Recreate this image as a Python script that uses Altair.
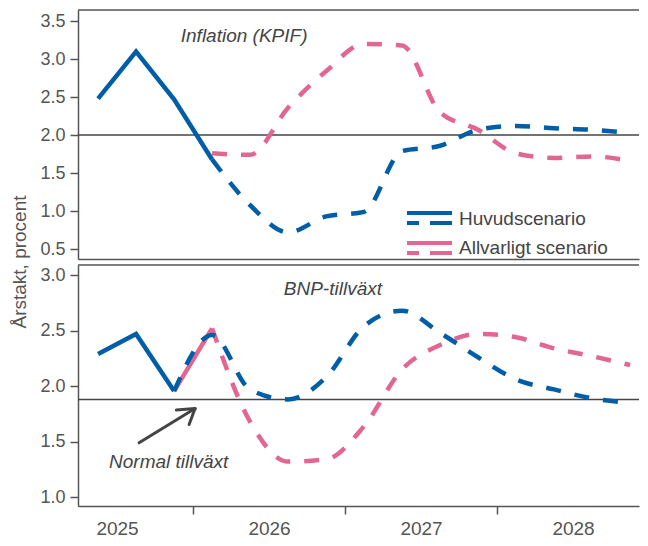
import altair as alt
import pandas as pd

FONT = "Liberation Sans"
BLUE = "#005ea8"
PINK = "#e2668f"
GREY = "#555555"
DARK = "#444444"

# Quarters (placed at quarter mid-points)
quarters = ["2025Q2", "2025Q3", "2025Q4",
            "2026Q1", "2026Q2", "2026Q3", "2026Q4",
            "2027Q1", "2027Q2", "2027Q3", "2027Q4",
            "2028Q1", "2028Q2", "2028Q3", "2028Q4"]

# Inflation (KPIF)
kpif_outcome_q = quarters[0:4]
kpif_outcome = [2.48, 3.10, 2.47, 1.68]
kpif_fc_q = quarters[3:]
kpif_main = [1.68, 1.08, 0.72, 0.93, 0.99, 1.79, 1.86, 2.07, 2.12, 2.09, 2.07, 2.03]
kpif_severe = [1.76, 1.74, 2.36, 2.84, 3.20, 3.18, 2.30, 2.07, 1.76, 1.70, 1.72, 1.66]
kpif_ref = [2.0]

# BNP-tillväxt
bnp_outcome_q = quarters[0:3]
bnp_outcome = [2.29, 2.47, 1.955]
bnp_fc_q = quarters[2:]
bnp_main = [1.955, 2.46, 1.97, 1.88, 2.08, 2.54, 2.68, 2.48, 2.26, 2.06, 1.97, 1.89, 1.85]
bnp_severe = [1.955, 2.52, 1.68, 1.32, 1.34, 1.64, 2.15, 2.37, 2.47, 2.44, 2.34, 2.27, 2.19]
bnp_ref = [1.88]

year_ticks = [2025.5, 2026, 2026.5, 2027, 2027.5, 2028, 2028.5]
top_y_ticks = [0.5, 1.0, 1.5, 2.0, 2.5, 3.0, 3.5]
bot_y_ticks = [1.0, 1.5, 2.0, 2.5, 3.0]

W = 561
H_TOP = 249
H_BOT = 241


def qpos(q):
    return int(q[:4]) + (int(q[-1]) - 0.5) / 4


def frame(qs, vals):
    return pd.DataFrame({"t": [qpos(q) for q in qs], "v": vals})


xscale = alt.Scale(domain=[2025.243, 2028.934], nice=False, zero=False)
top_y = alt.Scale(domain=[0.37, 3.646], nice=False, zero=False)
bot_y = alt.Scale(domain=[0.92, 3.091], nice=False, zero=False)


def yaxis(vals):
    return alt.Axis(values=vals, format=".1f", title=None, grid=False,
                    tickSize=8, tickColor=GREY, tickWidth=1.5,
                    domainColor=GREY, domainWidth=1.5,
                    labelColor=GREY, labelFontSize=18, labelFont=FONT,
                    labelPadding=5)


top_xaxis = alt.Axis(labels=False, ticks=False, domain=True, grid=False, title=None,
                     domainColor=GREY, domainWidth=1.5)

bottom_xaxis = alt.Axis(
    values=year_ticks,
    labelExpr="datum.value % 1 == 0.5 ? '' + floor(datum.value) : ''",
    tickOpacity={"condition": {"test": "datum.value % 1 == 0", "value": 1}, "value": 0},
    tickSize=8, tickColor=GREY, tickWidth=1.5,
    domainColor=GREY, domainWidth=1.5,
    labelColor=GREY, labelFontSize=19, labelFont=FONT, labelPadding=5,
    labelFlush=False, labelOverlap=False, grid=False, title=None)


def line(df, color, yscale, yvals, xaxis, dashed=False, smooth=False):
    kw = dict(color=color, strokeWidth=4.5, strokeCap="butt", clip=True)
    if dashed:
        kw["strokeDash"] = [15, 14]
    if smooth:
        kw["interpolate"] = "monotone"
    return alt.Chart(df).mark_line(**kw).encode(
        x=alt.X("t:Q", scale=xscale, axis=xaxis),
        y=alt.Y("v:Q", scale=yscale, axis=yaxis(yvals)),
    )


def ref_rule(vals, yscale, yvals):
    return alt.Chart(pd.DataFrame({"v": vals})).mark_rule(color=DARK, strokeWidth=1.5).encode(
        y=alt.Y("v:Q", scale=yscale, axis=yaxis(yvals)))


def label(text, t, v, yscale, size=19):
    return alt.Chart(pd.DataFrame({"t": [t], "v": [v], "s": [text]})).mark_text(
        font=FONT, fontSize=size, fontStyle="italic",
        color=DARK, align="center", baseline="alphabetic").encode(
        x=alt.X("t:Q", scale=xscale), y=alt.Y("v:Q", scale=yscale), text="s:N")


one = pd.DataFrame({"a": [0]})


def px_rule(x1, x2, y, color, width=4, dash=None):
    kw = dict(color=color, strokeWidth=width, strokeCap="butt")
    if dash:
        kw["strokeDash"] = dash
    return alt.Chart(one).mark_rule(**kw).encode(
        x=alt.value(x1), x2=alt.value(x2), y=alt.value(y))


def px_text(text, x, y, size=19, color=DARK, angle=0, align="left", baseline="alphabetic"):
    kw = dict(font=FONT, fontSize=size, color=color, align=align, baseline=baseline, text=text)
    if angle:
        kw["angle"] = angle
    return alt.Chart(one).mark_text(**kw).encode(x=alt.value(x), y=alt.value(y))


# ---------------- Top panel ----------------
top = alt.layer(
    ref_rule(kpif_ref, top_y, top_y_ticks),
    line(frame(kpif_fc_q, kpif_severe), PINK, top_y, top_y_ticks, top_xaxis, dashed=True, smooth=True),
    line(frame(kpif_fc_q, kpif_main), BLUE, top_y, top_y_ticks, top_xaxis, dashed=True, smooth=True),
    line(frame(kpif_outcome_q, kpif_outcome), BLUE, top_y, top_y_ticks, top_xaxis),
    label("Inflation (KPIF)", 2026.336, 3.23, top_y),
    # panel top edge
    px_rule(0, W, 0, GREY, width=1.5),
    # legend
    px_rule(329, 374, 203, BLUE),
    px_rule(329, 374, 213, BLUE, dash=[12, 11, 30, 0]),
    px_rule(329, 374, 233, PINK),
    px_rule(329, 374, 243, PINK, dash=[12, 11, 30, 0]),
    px_text("Huvudscenario", 381, 215),
    px_text("Allvarligt scenario", 381, 244),
    # shared y-axis title
    px_text("Årstakt, procent", -58, H_TOP + 3, size=19, color=GREY, angle=270,
            align="center", baseline="middle"),
).properties(width=W, height=H_TOP)

# ---------------- Bottom panel ----------------
arrow = pd.DataFrame({
    "t": [2025.645, 2025.890, 2025.974],
    "v": [1.489, 1.784, 1.654],
    "t2": [2026.013, 2026.013, 2026.013],
    "v2": [1.798, 1.798, 1.798],
})
arrow_layer = alt.Chart(arrow).mark_rule(color=DARK, strokeWidth=3, strokeCap="round").encode(
    x=alt.X("t:Q", scale=xscale), y=alt.Y("v:Q", scale=bot_y), x2="t2:Q", y2="v2:Q")

bottom = alt.layer(
    ref_rule(bnp_ref, bot_y, bot_y_ticks),
    line(frame(bnp_fc_q[:2], bnp_severe[:2]), PINK, bot_y, bot_y_ticks, bottom_xaxis),
    line(frame(bnp_fc_q[1:], bnp_severe[1:]), PINK, bot_y, bot_y_ticks, bottom_xaxis, dashed=True, smooth=True),
    line(frame(bnp_fc_q, bnp_main), BLUE, bot_y, bot_y_ticks, bottom_xaxis, dashed=True, smooth=True),
    line(frame(bnp_outcome_q, bnp_outcome), BLUE, bot_y, bot_y_ticks, bottom_xaxis),
    label("BNP-tillväxt", 2026.92, 2.825, bot_y),
    label("Normal tillväxt", 2025.84, 1.264, bot_y),
    arrow_layer,
    px_rule(0, W, 0, GREY, width=1.5),
).properties(width=W, height=H_BOT)

chart = alt.vconcat(top, bottom, spacing=6, bounds="flush").properties(
    padding={"left": 3, "top": 1, "right": 0, "bottom": 0}
).configure_view(stroke=None)

chart.save("out.html", embed_options={"renderer": "svg", "actions": False})
